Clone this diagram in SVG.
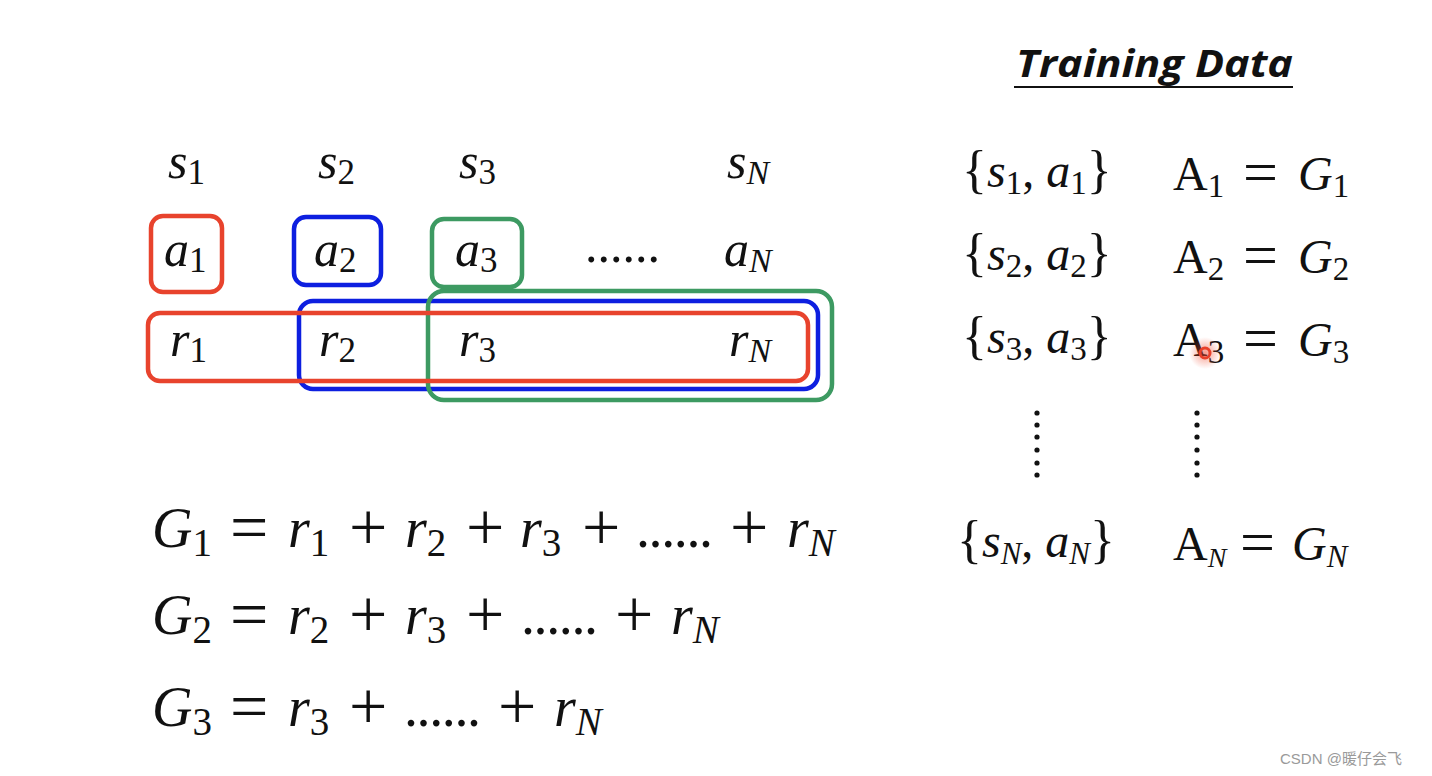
<svg xmlns="http://www.w3.org/2000/svg" width="1432" height="776" viewBox="0 0 1432 776">
<defs>
<style>
.m{font-family:"Liberation Serif","DejaVu Serif",serif;font-style:italic;fill:#111}
.t{font-size:50px}
.e{font-size:56px}
.rt{font-size:48px}
.u{font-style:normal}
.op{font-family:"Liberation Serif","DejaVu Serif",serif;font-style:normal;fill:#111;font-size:68px}
.opr{font-family:"Liberation Serif","DejaVu Serif",serif;font-style:normal;fill:#111;font-size:62px}
.box{fill:none;stroke-width:4.5}
.red{stroke:#e8432d}
.blue{stroke:#0d1fe0}
.green{stroke:#3d9a62}
.dot{fill:#111}
</style>
<radialGradient id="glow">
<stop offset="0" stop-color="#f04a30" stop-opacity="0.55"/>
<stop offset="1" stop-color="#f04a30" stop-opacity="0"/>
</radialGradient>
</defs>
<rect width="1432" height="776" fill="#ffffff"/>

<g id="boxes">
<rect class="box blue" x="299" y="301" width="519" height="88" rx="14"/>
<rect class="box green" x="428" y="291" width="404" height="109" rx="16"/>
<rect class="box red" x="148" y="313" width="660" height="68" rx="12"/>
<rect class="box red" x="151" y="216" width="71" height="76" rx="12"/>
<rect class="box blue" x="294" y="217" width="87" height="68" rx="12"/>
<rect class="box green" x="432" y="219" width="90" height="68" rx="12"/>
</g>

<g id="states">
<text class="m t" x="168" y="178">s<tspan class="u" font-size="35" dy="6">1</tspan></text>
<text class="m t" x="318" y="178">s<tspan class="u" font-size="35" dy="6">2</tspan></text>
<text class="m t" x="459" y="178">s<tspan class="u" font-size="35" dy="6">3</tspan></text>
<text class="m t" x="727" y="178">s<tspan font-size="34" dy="6">N</tspan></text>
</g>

<g id="actions">
<text class="m t" x="164" y="266">a<tspan class="u" font-size="35" dy="6">1</tspan></text>
<text class="m t" x="314" y="266">a<tspan class="u" font-size="35" dy="6">2</tspan></text>
<text class="m t" x="455" y="266">a<tspan class="u" font-size="35" dy="6">3</tspan></text>
<text class="m t u" x="585" y="262" textLength="75" lengthAdjust="spacing">......</text>
<text class="m t" x="724" y="266">a<tspan font-size="34" dy="6">N</tspan></text>
</g>

<g id="rewards">
<text class="m t" x="170" y="356">r<tspan class="u" font-size="35" dy="6">1</tspan></text>
<text class="m t" x="319" y="356">r<tspan class="u" font-size="35" dy="6">2</tspan></text>
<text class="m t" x="459" y="356">r<tspan class="u" font-size="35" dy="6">3</tspan></text>
<text class="m t" x="729" y="356">r<tspan font-size="34" dy="6">N</tspan></text>
</g>

<g id="eq1">
<text class="m e" x="152" y="547">G<tspan class="u" font-size="39" dy="9">1</tspan></text>
<text class="op" x="230" y="550">=</text>
<text class="m e" x="288" y="547">r<tspan class="u" font-size="39" dy="9">1</tspan></text>
<text class="op" x="349" y="550">+</text>
<text class="m e" x="405" y="547">r<tspan class="u" font-size="39" dy="9">2</tspan></text>
<text class="op" x="466" y="550">+</text>
<text class="m e" x="520" y="547">r<tspan class="u" font-size="39" dy="9">3</tspan></text>
<text class="op" x="582" y="550">+</text>
<text class="m e u" x="636" y="547" textLength="77" lengthAdjust="spacing">......</text>
<text class="op" x="730" y="550">+</text>
<text class="m e" x="787" y="547">r<tspan font-size="39" dy="9">N</tspan></text>
</g>

<g id="eq2">
<text class="m e" x="152" y="634">G<tspan class="u" font-size="39" dy="9">2</tspan></text>
<text class="op" x="230" y="637">=</text>
<text class="m e" x="288" y="634">r<tspan class="u" font-size="39" dy="9">2</tspan></text>
<text class="op" x="349" y="637">+</text>
<text class="m e" x="405" y="634">r<tspan class="u" font-size="39" dy="9">3</tspan></text>
<text class="op" x="466" y="637">+</text>
<text class="m e u" x="521" y="634" textLength="77" lengthAdjust="spacing">......</text>
<text class="op" x="615" y="637">+</text>
<text class="m e" x="671" y="634">r<tspan font-size="39" dy="9">N</tspan></text>
</g>

<g id="eq3">
<text class="m e" x="152" y="726">G<tspan class="u" font-size="39" dy="9">3</tspan></text>
<text class="op" x="230" y="729">=</text>
<text class="m e" x="288" y="726">r<tspan class="u" font-size="39" dy="9">3</tspan></text>
<text class="op" x="349" y="729">+</text>
<text class="m e u" x="404" y="726" textLength="77" lengthAdjust="spacing">......</text>
<text class="op" x="498" y="729">+</text>
<text class="m e" x="554" y="726">r<tspan font-size="39" dy="9">N</tspan></text>
</g>

<g id="title">
<text x="1016" y="77" font-family="'Open Sans','Liberation Sans',sans-serif" font-weight="700" font-style="italic" font-size="38" fill="#111" textLength="277" lengthAdjust="spacingAndGlyphs">Training Data</text>
<line x1="1014" y1="87" x2="1293" y2="87" stroke="#111" stroke-width="2"/>
</g>

<g id="row1">
<text class="m rt" x="962" y="187"><tspan class="u" font-size="52">{</tspan>s<tspan class="u" font-size="33" dy="7">1</tspan><tspan class="u" font-size="48" dy="-7">, </tspan>a<tspan class="u" font-size="33" dy="7">1</tspan><tspan class="u" font-size="52" dy="-7">}</tspan></text>
<text class="m rt u" x="1173" y="190">A<tspan font-size="33" dy="7">1</tspan></text>
<text class="opr" x="1243" y="193">=</text>
<text class="m rt" x="1298" y="190">G<tspan class="u" font-size="33" dy="7">1</tspan></text>
</g>

<g id="row2">
<text class="m rt" x="962" y="270"><tspan class="u" font-size="52">{</tspan>s<tspan class="u" font-size="33" dy="7">2</tspan><tspan class="u" font-size="48" dy="-7">, </tspan>a<tspan class="u" font-size="33" dy="7">2</tspan><tspan class="u" font-size="52" dy="-7">}</tspan></text>
<text class="m rt u" x="1173" y="273">A<tspan font-size="33" dy="7">2</tspan></text>
<text class="opr" x="1243" y="276">=</text>
<text class="m rt" x="1298" y="273">G<tspan class="u" font-size="33" dy="7">2</tspan></text>
</g>

<g id="row3">
<text class="m rt" x="962" y="353"><tspan class="u" font-size="52">{</tspan>s<tspan class="u" font-size="33" dy="7">3</tspan><tspan class="u" font-size="48" dy="-7">, </tspan>a<tspan class="u" font-size="33" dy="7">3</tspan><tspan class="u" font-size="52" dy="-7">}</tspan></text>
<text class="m rt u" x="1173" y="356">A<tspan font-size="33" dy="7">3</tspan></text>
<text class="opr" x="1243" y="359">=</text>
<text class="m rt" x="1298" y="356">G<tspan class="u" font-size="33" dy="7">3</tspan></text>
</g>

<g id="vdots">
<circle class="dot" cx="1037" cy="413" r="2.6"/>
<circle class="dot" cx="1037" cy="425" r="2.6"/>
<circle class="dot" cx="1037" cy="437" r="2.6"/>
<circle class="dot" cx="1037" cy="450" r="2.6"/>
<circle class="dot" cx="1037" cy="463" r="2.6"/>
<circle class="dot" cx="1037" cy="475" r="2.6"/>
<circle class="dot" cx="1197" cy="413" r="2.6"/>
<circle class="dot" cx="1197" cy="425" r="2.6"/>
<circle class="dot" cx="1197" cy="437" r="2.6"/>
<circle class="dot" cx="1197" cy="450" r="2.6"/>
<circle class="dot" cx="1197" cy="463" r="2.6"/>
<circle class="dot" cx="1197" cy="475" r="2.6"/>
</g>

<g id="rowN">
<text class="m rt" x="957" y="557"><tspan class="u" font-size="52">{</tspan>s<tspan font-size="31" dy="7">N</tspan><tspan class="u" font-size="48" dy="-7">, </tspan>a<tspan font-size="31" dy="7">N</tspan><tspan class="u" font-size="52" dy="-7">}</tspan></text>
<text class="m rt u" x="1173" y="560">A<tspan class="m" font-size="28" dy="7">N</tspan></text>
<text class="opr" x="1240" y="563">=</text>
<text class="m rt" x="1292" y="560">G<tspan font-size="31" dy="7">N</tspan></text>
</g>

<g id="cursor">
<circle cx="1205" cy="353" r="16" fill="url(#glow)"/>
<circle cx="1205" cy="353" r="5" fill="none" stroke="#e8402a" stroke-width="3"/>
</g>

<text x="1280" y="764" font-family="'Liberation Sans','Noto Sans CJK SC',sans-serif" font-size="15" fill="#9a9a9a">CSDN @暖仔会飞</text>
</svg>
